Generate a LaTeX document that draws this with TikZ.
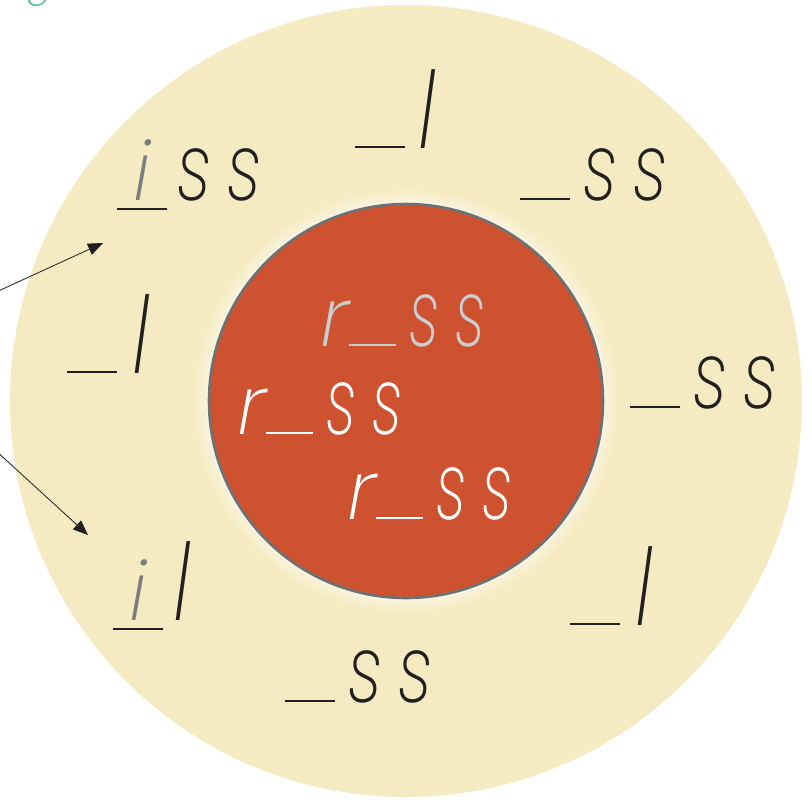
\documentclass[tikz,border=0pt]{standalone}
\usepackage{fontspec}
\usepackage{graphicx}
\usetikzlibrary{arrows.meta}
\newfontfamily\hand{Poppins}[UprightFont={* ExtraLight Italic}]
\definecolor{creambg}{HTML}{F5EBC2}
\definecolor{brick}{HTML}{CE5230}
\definecolor{rimgray}{HTML}{6B7275}
\definecolor{ink}{HTML}{231F20}
\definecolor{igray}{HTML}{7A7D80}
\definecolor{pale}{HTML}{C9CED1}
\definecolor{mint}{HTML}{3DBD7D}
\newcommand\gap{\rule{1.5cm}{0.075cm}}
\newcommand\rgap{\rule{1.42cm}{0.075cm}}
\newcommand\tallel{\scalebox{1}[1.3]{l}}
\newcommand\ess{\scalebox{0.85}[1.15]{s}}
\newcommand\sstwo{\ess\hspace{0.45cm}\ess}
\newcommand\iness{\scalebox{0.75}[1.15]{s}}
\newcommand\inss{\iness\hspace{0.45cm}\iness}
\newcommand\uline{\rlap{\raisebox{-0.3cm}{\gap}}\hspace{0.5cm}{\color{igray}i}}
\tikzset{
  word/.style={anchor=base west, inner sep=0pt, text=ink,
               font=\hand\fontsize{70}{80}\selectfont},
  inword/.style={word, text=white},
  ptr/.style={-{Triangle[length=4.5mm,width=3.6mm]}, line width=0.7pt, draw=ink}}

\begin{document}
\begin{tikzpicture}[x=0.03cm,y=-0.03cm]
  \useasboundingbox (0,0) rectangle (812,799);
  % rings
  \fill[creambg] (406,401) circle (396);
  \foreach \r/\o in {211/0.12,206/0.2,201/0.3}
    \fill[white,opacity=\o] (406,401) circle (\r);
  \filldraw[fill=brick, draw=rimgray, line width=2.2pt] (406,401) circle (197);
  % partly cut label
  \node[word, text=mint, font=\hand\fontsize{32}{36}\selectfont] (tag) at (27,-4) {g};
  % outer ring words
  \node[word] (wTop) at (355,148) {\gap\hspace{0.4cm}\tallel};
  \node[word] (wIss) at (117,200) {\uline\hspace{0.8cm}\sstwo};
  \node[word] (wTopRight) at (520,200) {\gap\hspace{0.4cm}\sstwo};
  \node[word] (wLeft) at (67,373) {\gap\hspace{0.45cm}\tallel};
  \node[word] (wRight) at (630,408) {\gap\hspace{0.4cm}\sstwo};
  \node[word] (wIl) at (113,620) {\uline\hspace{0.8cm}\tallel};
  \node[word] (wLowRight) at (570,625) {\gap\hspace{0.45cm}\tallel};
  \node[word] (wBottom) at (285,702) {\gap\hspace{0.4cm}\sstwo};
  % inner words
  \node[inword, text=pale] (rTop) at (320,346) {r\rgap\hspace{0.4cm}\inss};
  \node[inword] (rMid) at (237,434) {r\rgap\hspace{0.4cm}\inss};
  \node[inword] (rLow) at (347,519) {r\rgap\hspace{0.4cm}\inss};
  % pointers
  \coordinate (p1) at (-6,293);
  \coordinate (p2) at (-6,449);
  \coordinate (t1) at (103,243);
  \coordinate (t2) at (88,535);
  \draw[ptr] (p1) -- (t1);
  \draw[ptr] (p2) -- (t2);
\end{tikzpicture}
\end{document}
